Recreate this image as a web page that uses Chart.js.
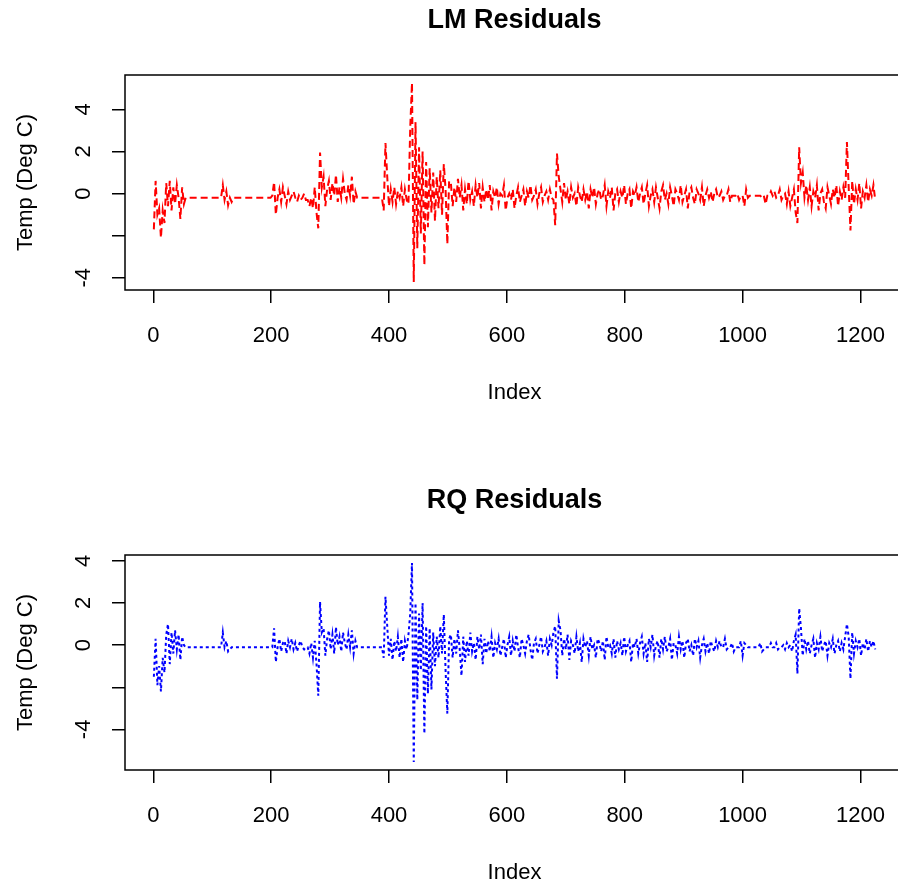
<!DOCTYPE html>
<html>
<head>
<meta charset="utf-8">
<title>LM / RQ Residuals</title>
<script src="https://cdn.jsdelivr.net/npm/chart.js@4.4.0/dist/chart.umd.min.js"></script>
<style>
  html, body { margin: 0; padding: 0; background: #fff; overflow: hidden; }
  .panel { position: absolute; left: 0; }
</style>
</head>
<body>
<div class="panel" style="top:0"><canvas id="lm-chart" width="905" height="420"></canvas></div>
<div class="panel" style="top:480px"><canvas id="rq-chart" width="905" height="420"></canvas></div>
<script>
// residuals, one value every 3rd index (index 1, 4, 7 ... 1225)
var indexStep = 3;

var lmResid = [
  // 1-52
  -1.7, 0.6, -1.0, -0.7, -2.1, -0.8, -1.4, 0.5, -0.6, 0.6, -0.8, 0.3, -0.5, 0.4, -0.2, -1.2, 0.3, -0.5,
  // 55-115
  -0.2, -0.2, -0.2, -0.2, -0.2, -0.2, -0.2, -0.2, -0.2, -0.2, -0.2, -0.2, -0.2, -0.2, -0.2, -0.2, -0.2, -0.2, -0.2, -0.2, -0.2,
  // 118-139
  0.4, -0.3, 0.1, -0.55, -0.2, -0.4, -0.2, -0.2,
  // 142-199
  -0.2, -0.2, -0.2, -0.2, -0.2, -0.2, -0.2, -0.2, -0.2, -0.2, -0.2, -0.2, -0.2, -0.2, -0.2, -0.2, -0.2, -0.2, -0.2, -0.2,
  // 202-259
  -0.1, 0.55, -1.0, -0.2, 0.2, -0.4, 0.3, -0.1, -0.5, 0.1, -0.3, -0.1, 0.1, -0.2, -0.4, -0.1, -0.3, -0.2, 0.0, -0.3,
  // 262-286
  -0.3, -0.6, -0.2, -0.7, 0.3, -0.9, -1.65, 1.95, 0.3,
  // 289-349
  0.8, -0.6, 0.2, 0.6, -0.3, 0.5, -0.1, 0.9, -0.4, 0.3, -0.2, 0.7, 0.0, -0.3, 0.4, -0.1, 0.8, -0.5, 0.1, -0.2, -0.2,
  // 352-388
  -0.2, -0.2, -0.2, -0.2, -0.2, -0.2, -0.2, -0.2, -0.2, -0.2, -0.2, -0.2, -0.2,
  // 391-418
  -0.8, 2.4, 0.8, -0.6, 0.2, -0.4, 0.3, -0.5, 0.1, -0.2,
  // 421-436
  0.3, -0.6, 0.2, -0.3, -0.5, 3.1,
  // 439-502
  5.25, -4.2, 3.4, -2.6, 2.2, -1.9, 2.0, -3.4, 1.5, -1.6, 1.2, -0.9, 1.0, -1.3, 0.8, -0.7, 1.1, -1.0, 1.4, 0.2, -2.4, 0.6,
  // 505-589
  0.5, -0.6, 0.3, -0.4, 0.7, -0.2, 0.4, -0.8, 0.2, -0.5, 0.6, -0.3, 0.1, -0.6, 0.4, -0.2, 0.5, -0.7, 0.3, -0.4,
  0.2, -0.3, 0.4, -0.8, 0.1, -0.2, 0.3, -0.5, 0.0,
  // 592-676
  -0.1, 0.4, -0.8, -0.2, 0.0, -0.3, 0.2, -0.7, -0.1, 0.3, -0.4, -0.1, 0.2, -0.6, 0.1, -0.2, 0.4, -0.3, -0.1, 0.2,
  -0.5, 0.0, 0.3, -0.4, -0.1, 0.1, -0.3, 0.2, -0.2,
  // 679-688
  -0.3, -1.5, 1.9, 0.8,
  // 691-826
  0.2, -0.4, 0.5, -0.3, 0.1, -0.5, 0.3, -0.2, 0.0, -0.6, 0.3, -0.1, -0.4, 0.2, -0.3, 0.1, -0.7, 0.2, -0.2, 0.3,
  -0.5, 0.0, 0.2, -0.3, -0.1, 0.4, -0.6, 0.1, -0.2, 0.3, -0.8, 0.0, 0.2, -0.4, 0.1, -0.2, 0.4, -0.5, 0.0, 0.2,
  -0.7, 0.1, -0.1, 0.3, -0.4, 0.0,
  // 829-958
  0.3, -0.5, 0.0, 0.4, -0.6, -0.1, 0.2, -0.4, 0.3, -0.2, -0.7, 0.1, 0.4, -0.3, 0.0, -0.5, 0.3, -0.1, -0.6, 0.2,
  0.0, -0.3, 0.4, -0.4, -0.1, 0.2, -0.7, 0.1, 0.3, -0.2, -0.5, 0.2, 0.0, -0.3, 0.3, -0.6, -0.1, 0.2, -0.2, 0.1,
  -0.4, 0.0, 0.2, -0.2,
  // 961-1048
  -0.1, 0.1, -0.3, -0.1, -0.1, 0.2, -0.4, -0.1, -0.1, -0.1, 0.0, -0.3, -0.1, -0.1, -0.6, 0.2, -0.2, -0.1, -0.1, -0.1,
  -0.1, -0.1, -0.1, -0.1, -0.2, -0.1, -0.5, -0.1, -0.1, 0.1,
  // 1051-1108
  -0.1, 0.1, -0.2, -0.1, 0.2, -0.3, -0.1, 0.0, -0.5, 0.1, -0.6, -0.2, 0.2, -0.9, -1.4, 2.2, 0.5, 1.0, -0.2, 0.4,
  // 1111-1174
  -0.3, 0.3, -0.6, 0.1, -0.2, 0.4, -0.8, 0.0, 0.2, -0.4, -0.7, 0.3, -0.1, -0.5, 0.2, -0.2, 0.4, -0.6, 0.1, -0.3, 0.3, -0.2,
  // 1177-1186
  2.45, 0.3, -1.75, 0.6,
  // 1189-1225
  -0.5, 0.2, -0.3, 0.5, -0.7, 0.1, -0.2, 0.4, -0.4, 0.2, -0.1, 0.4, -0.3
];

var rqResid = [
  // 1-52
  -1.5, 0.3, -1.9, -1.0, -2.2, -0.6, -1.3, 0.5, 1.0, -0.9, 0.6, -0.4, 0.7, -0.2, 0.5, -0.7, 0.4, 0.0,
  // 55-115
  -0.1, -0.1, -0.1, -0.1, -0.1, -0.1, -0.1, -0.1, -0.1, -0.1, -0.1, -0.1, -0.1, -0.1, -0.1, -0.1, -0.1, -0.1, -0.1, -0.1, -0.1,
  // 118-139
  0.6, -0.1, 0.2, -0.3, -0.2, -0.1, -0.1, -0.1,
  // 142-199
  -0.1, -0.1, -0.1, -0.1, -0.1, -0.1, -0.1, -0.1, -0.1, -0.1, -0.1, -0.1, -0.1, -0.1, -0.1, -0.1, -0.1, -0.1, -0.1, -0.1,
  // 202-259
  -0.1, 0.8, -0.8, -0.1, 0.3, -0.3, 0.1, 0.2, -0.4, 0.2, -0.1, 0.3, -0.2, 0.1, -0.3, 0.0, 0.2, -0.1, -0.2, -0.1,
  // 262-286
  -0.1, -0.4, 0.1, -0.6, 0.2, -0.9, -2.4, 2.05, 0.6,
  // 289-349
  0.8, -0.5, 0.3, 0.7, -0.2, 0.5, -0.4, 0.85, 0.0, 0.4, -0.3, 0.6, 0.1, -0.2, 0.5, -0.1, 0.7, -0.4, 0.2, -0.1, -0.1,
  // 352-388
  -0.1, -0.1, -0.1, -0.1, -0.1, -0.1, -0.1, -0.1, -0.1, -0.1, -0.1, -0.1, -0.1,
  // 391-418
  -0.6, 2.3, 0.9, -0.5, 0.3, -0.7, 0.2, -0.3, 0.4, -0.6,
  // 421-436
  0.3, -0.8, 0.2, -0.2, 0.5, 1.5,
  // 439-502
  3.9, -5.55, 2.0, -2.6, 1.5, -1.2, 2.0, -4.2, 0.9, -2.3, 0.8, -2.1, 0.6, -1.0, 0.4, -0.6, 0.9, -0.4, 1.45, -1.2, -3.25, 0.3,
  // 505-589
  0.5, -0.6, 0.3, -0.4, 0.7, -0.2, -1.45, 0.4, -0.8, 0.2, -0.5, 0.6, -0.3, 0.1, -0.7, 0.4, -0.2, 0.5, -0.9, 0.3,
  -0.4, 0.2, -0.3, 0.4, -0.6, 0.1, -0.2, 0.3, -0.5,
  // 592-676
  -0.1, 0.3, -0.6, 0.0, 0.4, -0.5, 0.2, -0.3, 0.5, -0.1, -0.6, 0.3, 0.0, -0.4, 0.2, 0.5, -0.2, -0.7, 0.1, 0.3,
  -0.4, 0.0, 0.4, -0.3, -0.1, 0.2, -0.5, 0.3, 0.0,
  // 679-688
  0.6, 0.9, -1.6, 1.15,
  // 691-826
  0.7, -0.5, 0.3, -0.2, 0.5, -0.7, 0.2, 0.0, -0.4, 0.4, -0.3, 0.1, -0.8, 0.3, -0.1, 0.2, -0.5, 0.4, -0.2, 0.0,
  -0.6, 0.3, 0.1, -0.3, 0.2, -0.7, 0.4, -0.1, 0.0, -0.4, 0.3, -0.6, 0.2, -0.2, 0.1, -0.5, 0.4, -0.3, 0.0, 0.2,
  -0.8, 0.1, -0.1, 0.3, -0.4, 0.1,
  // 829-958
  0.4, -0.4, 0.1, -0.8, 0.3, -0.1, 0.5, -0.5, 0.0, 0.2, -0.6, 0.3, -0.2, 0.4, -0.3, -0.1, 0.3, -0.7, 0.1, 0.0,
  -0.4, 0.4, -0.2, 0.2, -0.6, 0.1, 0.3, -0.3, 0.0, -0.5, 0.3, -0.1, 0.2, -0.6, 0.0, 0.3, -0.3, 0.1, -0.4, 0.2,
  -0.1, -0.3, 0.2, -0.1,
  // 961-1048
  0.2, -0.1, -0.1, 0.3, -0.2, -0.1, -0.1, 0.1, -0.3, -0.1, -0.1, -0.1, 0.2, -0.5, 0.1, 0.0, -0.1, -0.1, -0.1, -0.1,
  -0.1, -0.1, -0.1, 0.1, -0.3, -0.2, -0.1, -0.1, -0.1, 0.1,
  // 1051-1108
  -0.1, -0.1, 0.1, -0.2, -0.1, -0.1, 0.0, -0.2, 0.1, -0.1, 0.0, -0.3, 0.2, 0.5, -1.35, 1.75, 0.8, -0.5, 0.3, -0.2,
  // 1111-1174
  0.2, -0.4, 0.0, 0.3, -0.6, 0.1, -0.2, 0.4, -0.3, 0.0, 0.2, -0.5, 0.1, -0.1, 0.3, -0.4, 0.0, 0.2, -0.3, 0.1, -0.2, 0.4,
  // 1177-1186
  1.0, 0.4, -1.6, 0.6,
  // 1189-1225
  -0.4, 0.2, -0.1, 0.3, -0.5, 0.1, -0.2, 0.3, -0.3, 0.2, -0.1, 0.2, -0.2
];

var xTicks = [0, 200, 400, 600, 800, 1000, 1200];
var yTicks = [-4, -2, 0, 2, 4];
var yTickLabels = ['-4', '', '0', '2', '4'];   // R drops the -2 label (overlap)

Chart.defaults.font.family = "'Liberation Sans', Arial, sans-serif";
Chart.defaults.color = '#000';

// R style axis range: data range padded by 4% on each side
function rRange(vals) {
    var lo = Math.min.apply(null, vals), hi = Math.max.apply(null, vals);
    var pad = 0.04 * (hi - lo);
    return [lo - pad, hi + pad];
}

var plotBox = {
    id: 'plotBox',
    afterDraw: function (chart) {
        var a = chart.chartArea, ctx = chart.ctx;
        ctx.save();
        ctx.strokeStyle = '#000';
        ctx.lineWidth = 1.5;
        ctx.strokeRect(a.left, a.top, a.right - a.left, a.bottom - a.top);
        ctx.restore();
    }
};

// y tick labels drawn parallel to the axis, like R's las = 0
var rotatedYLabels = {
    id: 'rotatedYLabels',
    afterDraw: function (chart) {
        var ctx = chart.ctx, ys = chart.scales.y;
        ctx.save();
        ctx.fillStyle = '#000';
        ctx.font = "22px 'Liberation Sans', Arial, sans-serif";
        ctx.textAlign = 'center';
        ctx.textBaseline = 'middle';
        yTicks.forEach(function (v, k) {
            if (!yTickLabels[k]) return;
            ctx.save();
            ctx.translate(chart.chartArea.left - 41, ys.getPixelForValue(v));
            ctx.rotate(-Math.PI / 2);
            ctx.fillText(yTickLabels[k], 0, 0);
            ctx.restore();
        });
        ctx.restore();
    }
};

function makePanel(canvasId, titleText, values, color, dash) {
    var points = values.map(function (v, i) { return { x: 1 + indexStep * i, y: v }; });
    var xr = rRange([1, 1 + indexStep * (values.length - 1)]);
    var yr = rRange(values);

    new Chart(document.getElementById(canvasId), {
        type: 'line',
        data: {
            datasets: [{
                data: points,
                borderColor: color,
                borderWidth: 2,
                borderDash: dash,
                pointRadius: 0,
                fill: false,
                tension: 0
            }]
        },
        options: {
            responsive: false,
            animation: false,
            devicePixelRatio: 1,
            layout: { padding: 0 },
            plugins: {
                legend: { display: false },
                tooltip: { enabled: false },
                title: {
                    display: true,
                    text: titleText,
                    fullSize: false,
                    color: '#000',
                    font: { size: 27, weight: 'bold' },
                    padding: { top: 4, bottom: 38.6 }
                }
            },
            scales: {
                x: {
                    type: 'linear',
                    min: xr[0],
                    max: xr[1],
                    afterBuildTicks: function (s) { s.ticks = xTicks.map(function (v) { return { value: v }; }); },
                    afterFit: function (s) { s.height = 130; },
                    border: { display: false },
                    grid: { drawOnChartArea: false, tickLength: 13, color: '#000', lineWidth: 1.5 },
                    ticks: {
                        autoSkip: false,
                        maxRotation: 0,
                        padding: 20,
                        font: { size: 22 },
                        callback: function (v) { return String(v); }
                    },
                    title: { display: true, text: 'Index', font: { size: 22 }, padding: { top: 0, bottom: 14 } }
                },
                y: {
                    type: 'linear',
                    min: yr[0],
                    max: yr[1],
                    afterBuildTicks: function (s) { s.ticks = yTicks.map(function (v) { return { value: v }; }); },
                    afterFit: function (s) { s.width = 125; },
                    border: { display: false },
                    grid: { drawOnChartArea: false, tickLength: 13, color: '#000', lineWidth: 1.5 },
                    ticks: { display: false },
                    title: { display: true, text: 'Temp (Deg C)', font: { size: 22 }, padding: { top: 13, bottom: 0 } }
                }
            }
        },
        plugins: [plotBox, rotatedYLabels]
    });
}

makePanel('lm-chart', 'LM Residuals', lmResid, '#ff0000', [7, 4]);
makePanel('rq-chart', 'RQ Residuals', rqResid, '#0000ff', [3, 3]);
</script>
</body>
</html>
